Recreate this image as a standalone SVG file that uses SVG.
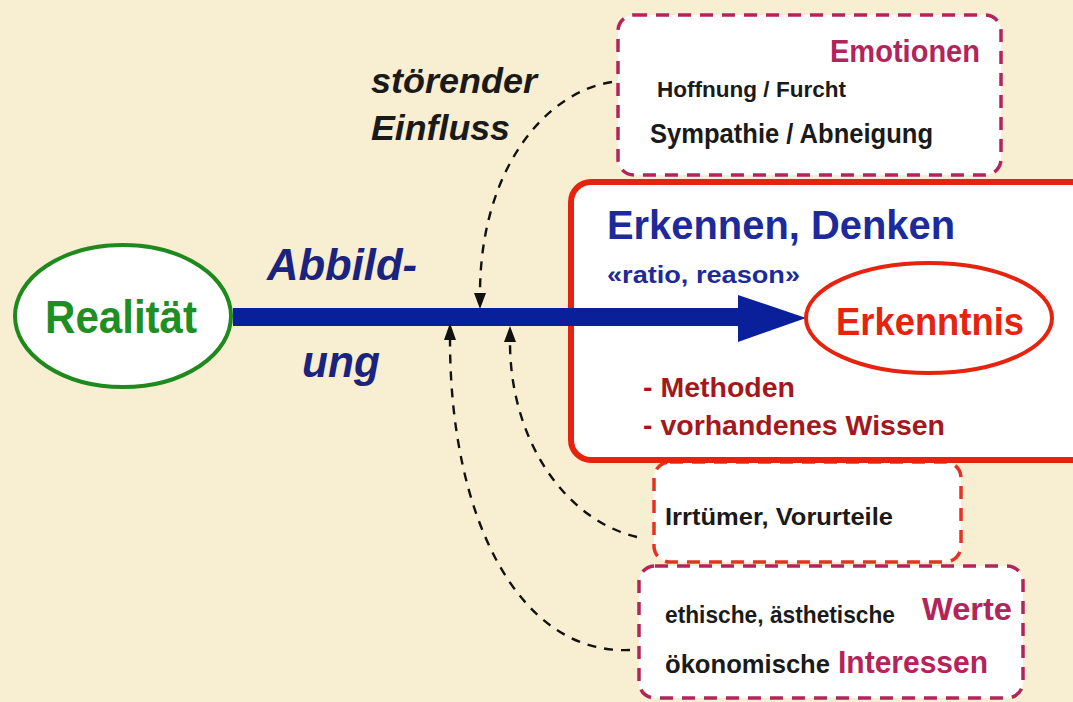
<svg xmlns="http://www.w3.org/2000/svg" width="1073" height="702" viewBox="0 0 1073 702">
<defs>
<style>
.t{font-family:"Liberation Sans Narrow","Liberation Sans",Arial,sans-serif;font-weight:bold}
.it{font-family:"Liberation Sans","Arial",sans-serif;font-weight:bold;font-style:italic}
.box{fill:#ffffff}
.dashC{stroke:#b3245a;stroke-width:3.5;stroke-dasharray:13 9}
.dashR{stroke:#e63222;stroke-width:3.5;stroke-dasharray:13 9}
.conn{fill:none;stroke:#111;stroke-width:2.4;stroke-dasharray:9 8}
.head{fill:#111}
</style>
</defs>
<rect x="0" y="0" width="1073" height="702" fill="#f8eed2"/>

<g id="werte">
<rect class="box dashC" x="639" y="566" width="384" height="132" rx="16"/>
<text class="t" x="665" y="623" font-size="24" fill="#1a1a1a" textLength="230" lengthAdjust="spacingAndGlyphs">ethische, ästhetische</text>
<text class="t" x="922" y="620" font-size="32" fill="#b3245a" textLength="90" lengthAdjust="spacingAndGlyphs">Werte</text>
<text class="t" x="665" y="673" font-size="26" fill="#1a1a1a" textLength="165" lengthAdjust="spacingAndGlyphs">ökonomische</text>
<text class="t" x="838" y="673" font-size="31" fill="#b3245a" textLength="150" lengthAdjust="spacingAndGlyphs">Interessen</text>
</g>

<g id="irrtuemer">
<rect class="box dashR" x="654" y="462" width="307" height="100" rx="16"/>
<text class="t" x="665" y="525" font-size="24" fill="#1a1a1a" textLength="228" lengthAdjust="spacingAndGlyphs">Irrtümer, Vorurteile</text>
</g>

<g id="emotionen">
<rect class="box dashC" x="618" y="15" width="383" height="160" rx="16"/>
<text class="t" x="980" y="62" font-size="32" fill="#b3245a" text-anchor="end" textLength="150" lengthAdjust="spacingAndGlyphs">Emotionen</text>
<text class="t" x="657" y="97" font-size="22" fill="#1a1a1a" textLength="189" lengthAdjust="spacingAndGlyphs">Hoffnung / Furcht</text>
<text class="t" x="650" y="143" font-size="27" fill="#1a1a1a" textLength="283" lengthAdjust="spacingAndGlyphs">Sympathie / Abneigung</text>
</g>

<g id="denken">
<rect x="571" y="182" width="520" height="278" rx="20" fill="#ffffff" stroke="#e6230f" stroke-width="6"/>
<text class="t" x="607" y="239" font-size="40" fill="#1c2a9c" textLength="348" lengthAdjust="spacingAndGlyphs">Erkennen, Denken</text>
<text class="t" x="607" y="283" font-size="23" fill="#1c2a9c" textLength="193" lengthAdjust="spacingAndGlyphs">«ratio, reason»</text>
<text class="t" x="643" y="397" font-size="28" fill="#a3181c" textLength="152" lengthAdjust="spacingAndGlyphs">- Methoden</text>
<text class="t" x="643" y="435" font-size="28" fill="#a3181c" textLength="302" lengthAdjust="spacingAndGlyphs">- vorhandenes Wissen</text>
</g>

<g id="connectors">
<line x1="233" y1="317" x2="745" y2="317" stroke="#0a1f9a" stroke-width="18"/>
<path d="M738,295 L806,318 L738,342 z" fill="#0a1f9a"/>
<path class="conn" d="M612,82 C545,92 480,170 480,294"/>
<path class="head" d="M474,293 L486,293 L480,309 z"/>
<path class="conn" d="M637,537 C565,520 510,440 510,342"/>
<path class="head" d="M504,342 L516,342 L510,326 z"/>
<path class="conn" d="M630,650 C520,655 450,520 450,340"/>
<path class="head" d="M444,340 L456,340 L450,323 z"/>
</g>

<g id="realitaet">
<ellipse cx="123" cy="316" rx="108" ry="71" fill="#ffffff" stroke="#1e8a1e" stroke-width="4"/>
<text class="t" x="121" y="333" font-size="46" fill="#1e8f22" text-anchor="middle" textLength="152" lengthAdjust="spacingAndGlyphs">Realität</text>
</g>

<g id="erkenntnis">
<ellipse cx="929" cy="318" rx="123" ry="55" fill="#ffffff" stroke="#e6230f" stroke-width="4"/>
<text class="t" x="930" y="335" font-size="39" fill="#e6230f" text-anchor="middle" textLength="188" lengthAdjust="spacingAndGlyphs">Erkenntnis</text>
</g>

<g id="labels">
<text class="it" x="267" y="280" font-size="44" fill="#1a237e" textLength="150" lengthAdjust="spacingAndGlyphs">Abbild-</text>
<text class="it" x="302" y="377" font-size="44" fill="#1a237e" textLength="78" lengthAdjust="spacingAndGlyphs">ung</text>
<text class="it" x="371" y="93" font-size="35" fill="#1a1a1a" textLength="166" lengthAdjust="spacingAndGlyphs">störender</text>
<text class="it" x="371" y="140" font-size="35" fill="#1a1a1a" textLength="139" lengthAdjust="spacingAndGlyphs">Einfluss</text>
</g>
</svg>
